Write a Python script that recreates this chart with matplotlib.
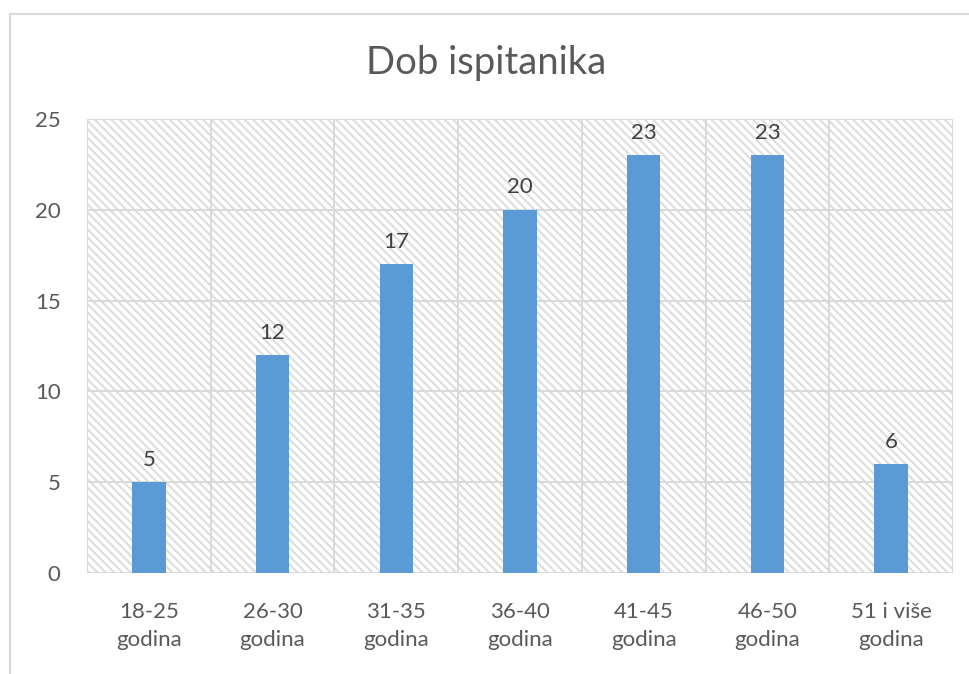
import matplotlib
matplotlib.use("Agg")
import matplotlib.pyplot as plt
from matplotlib.patches import Rectangle

categories = ["18-25\ngodina", "26-30\ngodina", "31-35\ngodina", "36-40\ngodina",
              "41-45\ngodina", "46-50\ngodina", "51 i više\ngodina"]
values = [5, 12, 17, 20, 23, 23, 6]
yticks = [0, 5, 10, 15, 20, 25]
title = "Dob ispitanika"

plt.rcParams['font.family'] = ['Lato', 'DejaVu Sans']
plt.rcParams['hatch.linewidth'] = 1.5
plt.rcParams['hatch.color'] = '#dddddd'

fig = plt.figure(figsize=(9.7, 6.74), dpi=100)
ax = fig.add_axes([87/970, 1 - 573/674, 866/970, (573 - 119)/674])

# hatched plot-area background
bg = Rectangle((0, 0), 1, 1, transform=ax.transAxes, facecolor='white',
               edgecolor='#dddddd', hatch='\\\\\\\\', linewidth=0, zorder=0)
ax.add_patch(bg)

x = list(range(len(categories)))
ax.bar(x, values, width=0.27, color='#5b9bd5', zorder=3)

for xi, v in zip(x, values):
    ax.annotate(str(v), (xi, v), xytext=(0, 9), textcoords='offset points',
                ha='center', va='bottom', fontsize=16, color='#404040', zorder=4)

ax.set_xlim(-0.5, len(categories) - 0.5)
ax.set_ylim(0, 25)
ax.set_yticks(yticks)
ax.set_yticklabels([str(t) for t in yticks])
ax.set_xticks(x)
ax.set_xticklabels(categories, linespacing=1.5)
ax.tick_params(axis='both', length=0, labelsize=16, labelcolor='#595959')
ax.tick_params(axis='y', pad=19)
ax.tick_params(axis='x', pad=21)

grid_c = '#d9d9d9'
for t in yticks:
    ax.axhline(t, color=grid_c, linewidth=1.4, zorder=1)
for b in [i - 0.5 for i in range(len(categories) + 1)]:
    ax.axvline(b, color=grid_c, linewidth=1.4, zorder=1)

for s in ax.spines.values():
    s.set_visible(False)

fig.text(486/970, 1 - 63/674, title, ha='center', va='center',
         fontsize=27.5, color='#595959')

# chart frame
frame = Rectangle((10/970, -0.1), 1.2, 1 - 14/674 + 0.1, transform=fig.transFigure,
                  fill=False, edgecolor='#d9d9d9', linewidth=1.5, zorder=0)
fig.patches.append(frame)

fig.savefig('out.png', dpi=100)
